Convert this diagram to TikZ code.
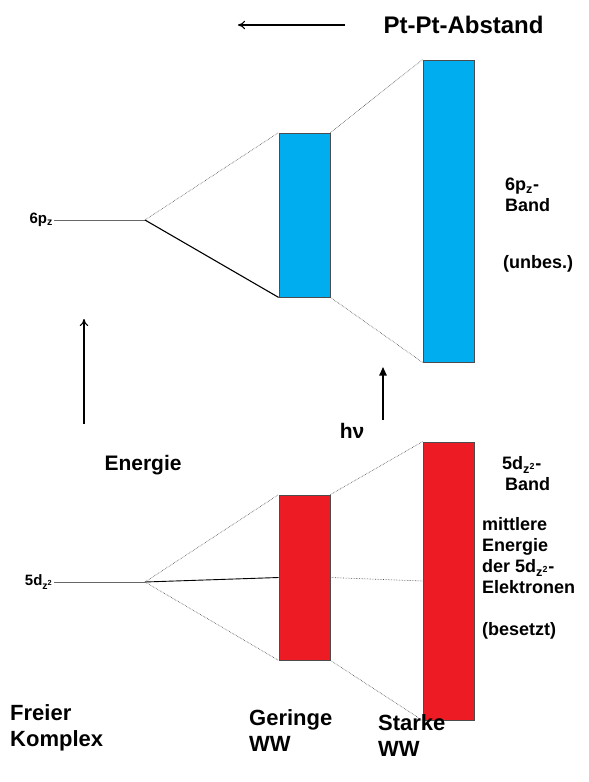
\documentclass[tikz,border=0pt]{standalone}
\usepackage{fontspec}
\setmainfont{Liberation Sans}[BoldFont={Liberation Sans Bold}]
\usetikzlibrary{arrows.meta,positioning}
\definecolor{bandblue}{RGB}{0,174,239}
\definecolor{bandred}{RGB}{237,28,36}
\definecolor{edge}{gray}{0.3}

\begin{document}
\begin{tikzpicture}[x=1pt, y=-1pt,
		every node/.style={font=\bfseries},
		band/.style={draw=edge, line width=0.8pt, minimum width=51pt, inner sep=0pt},
		empty/.style={band, fill=bandblue},
		full/.style={band, fill=bandred},
		lvl/.style={font=\fontsize{15}{17}\selectfont\bfseries, inner sep=1pt, anchor=east},
		split/.style={black!70, densely dotted, line width=0.6pt},
		level/.style={black!60, line width=0.8pt},
		big/.style={font=\fontsize{22}{26}\selectfont\bfseries, align=left, anchor=north west, inner sep=0pt},
		note/.style={font=\fontsize{18}{21}\selectfont\bfseries, align=left, anchor=north west, inner sep=0pt},
		arrow/.style={-{To[length=2.5mm, width=3mm]}, line width=1.2pt},
		pump/.style={-{Triangle[length=3mm, width=2.6mm]}, line width=1.2pt}
	]
		\useasboundingbox (0,0) rectangle (589,782);

		% bands
		\node[empty, minimum height=164pt] (pnarrow) at (304.5,215) {};
		\node[empty, minimum height=302pt] (pwide) at (448.5,211) {};
		\node[full, minimum height=165pt] (dnarrow) at (304.5,577.5) {};
		\node[full, minimum height=278pt] (dwide) at (448.5,581) {};

		% free complex levels
		\coordinate (psplit) at (145,220);
		\coordinate (dsplit) at (145,582);
		\node[lvl] (plevel) at (54,220) {6p\textsubscript{z}};
		\node[lvl] (dlevel) at (54,582) {5d\textsubscript{z\textsuperscript{2}}};

		\draw[level] (plevel) -- (psplit);
		\draw[split] (psplit) -- (pnarrow.north west);
		\draw[line width=1.1pt] (psplit) -- (pnarrow.south west);
		\draw[split] (pnarrow.north east) -- (pwide.north west);
		\draw[split] (pnarrow.south east) -- (pwide.south west);

		\draw[level] (dlevel) -- (dsplit);
		\draw[split] (dsplit) -- (dnarrow.north west);
		\draw[split] (dsplit) -- (dnarrow.south west);
		\draw[line width=0.9pt] (dsplit) -- (dnarrow.west);
		\draw[split] (dnarrow.north east) -- (dwide.north west);
		\draw[split] (dnarrow.south east) -- (dwide.south west);
		\draw[split] (dnarrow.east) -- (dwide.west);

		% arrows
		\node[anchor=west, font=\fontsize{24}{28}\selectfont\bfseries] (abstand) at (380,25) {Pt-Pt-Abstand};
		\coordinate (abstandtail) at (345,25);
		\coordinate (abstandtip) at (238,25);
		\draw[arrow] (abstandtail) -- (abstandtip);

		\node[anchor=west, font=\fontsize{21}{25}\selectfont\bfseries] (energie) at (101,465) {Energie};
		\coordinate (energietail) at (84,424);
		\coordinate (energietip) at (84,319);
		\draw[arrow] (energietail) -- (energietip);

		\node[font=\fontsize{21}{25}\selectfont\bfseries] (hnu) at (352,431) {hν};
		\coordinate (hnutail) at (383,420);
		\coordinate (hnutip) at (383,367);
		\draw[pump] (hnutail) -- (hnutip);

		% band labels
		\node[note] (pband) at (505,178) {6p\textsubscript{z}-\\Band};
		\node[note] (pstate) at (503,255) {(unbes.)};
		\node[note] (dband) at (502,456) {5d\textsubscript{z\textsuperscript{2}}-\\\,Band};
		\node[note] (dmean) at (482,517) {mittlere\\Energie\\der 5d\textsubscript{z\textsuperscript{2}}-\\Elektronen};
		\node[note] (dstate) at (482,622) {(besetzt)};

		% columns
		\node[big] (free) at (10,704) {Freier\\Komplex};
		\node[big] (weak) at (249,709) {Geringe\\WW};
		\node[big] (strong) at (378,714) {Starke\\WW};
	\end{tikzpicture}
\end{document}
